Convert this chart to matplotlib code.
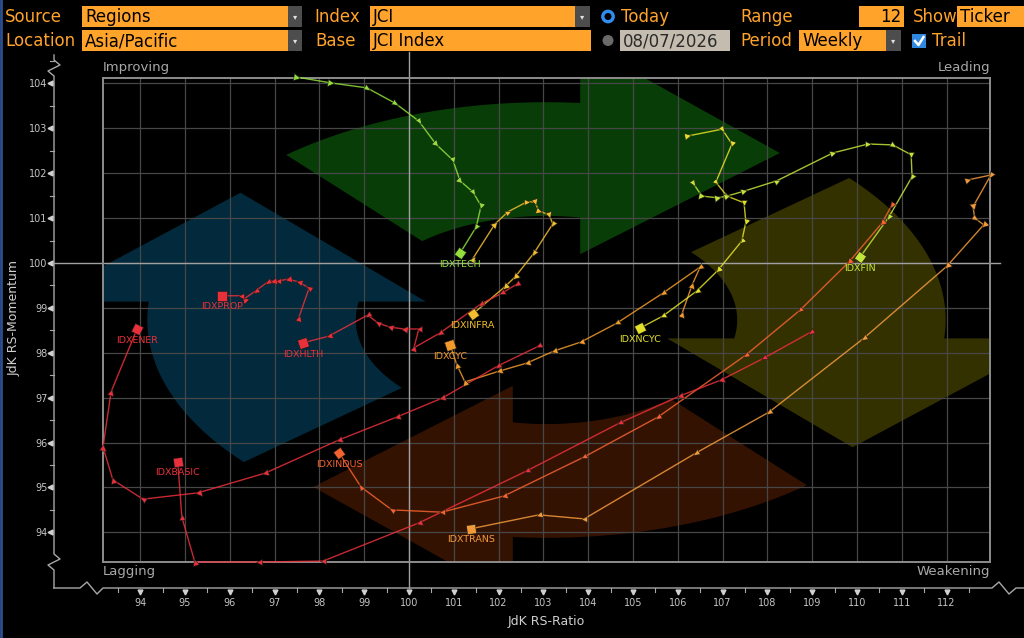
import numpy as np
import matplotlib
matplotlib.use('Agg')
from matplotlib import pyplot as plt
from matplotlib.markers import MarkerStyle
from matplotlib.patches import Polygon, Rectangle, Circle
from matplotlib.transforms import Affine2D, blended_transform_factory

plt.rcParams['font.family'] = ['DejaVu Sans']

# JdK RS-Ratio (x) / RS-Momentum (y), weekly, oldest -> latest
tickers = ['IDXTECH', 'IDXINFRA', 'IDXHLTH', 'IDXCYC', 'IDXNCYC', 'IDXFIN',
           'IDXTRANS', 'IDXINDUS', 'IDXBASIC', 'IDXENER', 'IDXPROP']
colors = ['#93de3c', '#f2bd2e', '#e8303a', '#f29a2c', '#e3e02a', '#c3e43a',
          '#f29a3a', '#f4622e', '#e8303a', '#e8303a', '#e8303a']

tech_x = [97.50, 98.26, 99.06, 99.69, 100.22, 100.60, 100.98, 101.14, 101.43, 101.61, 101.50, 101.14]
tech_y = [104.14, 104.01, 103.90, 103.56, 103.16, 102.65, 102.29, 101.83, 101.58, 101.27, 100.80, 100.22]

infra_x = [101.42, 101.92, 102.21, 102.63, 102.81, 102.90, 103.13, 103.21, 102.79, 102.37, 102.14, 101.42]
infra_y = [100.09, 100.87, 101.14, 101.36, 101.36, 101.16, 101.07, 100.87, 100.22, 99.69, 99.47, 98.86]

hlth_x = [102.41, 102.08, 101.61, 100.69, 100.11, 100.22, 99.89, 99.58, 99.31, 99.08, 98.21, 97.63]
hlth_y = [99.53, 99.33, 99.09, 98.44, 98.11, 98.53, 98.53, 98.57, 98.66, 98.84, 98.37, 98.22]

cyc_x = [106.09, 106.32, 106.50, 105.67, 104.64, 103.84, 103.24, 102.63, 102.01, 101.25, 101.07, 100.92]
cyc_y = [98.86, 99.51, 99.91, 99.33, 98.66, 98.24, 98.04, 97.77, 97.59, 97.35, 97.73, 98.17]

ncyc_x = [106.23, 106.99, 107.21, 106.85, 107.10, 107.48, 107.52, 107.43, 106.90, 106.43, 105.67, 105.16]
ncyc_y = [102.83, 102.98, 102.65, 101.80, 101.49, 101.34, 100.91, 100.49, 99.84, 99.38, 98.82, 98.55]

fin_x = [106.34, 106.54, 106.90, 107.10, 107.48, 108.21, 109.46, 110.25, 110.80, 111.21, 111.23, 110.71, 110.07]
fin_y = [101.78, 101.49, 101.45, 101.49, 101.60, 101.83, 102.45, 102.65, 102.63, 102.41, 101.92, 101.02, 100.13]

trans_x = [112.48, 112.99, 112.59, 112.63, 112.83, 112.01, 110.16, 108.04, 106.41, 103.91, 102.90, 101.38]
trans_y = [101.85, 101.96, 101.25, 101.00, 100.85, 99.93, 98.33, 96.68, 95.77, 94.30, 94.39, 94.08]

indus_x = [110.78, 110.56, 109.82, 108.73, 107.52, 105.56, 103.91, 102.12, 100.74, 99.62, 98.93, 98.44]
indus_y = [101.29, 100.89, 100.02, 98.95, 97.95, 96.57, 95.68, 94.81, 94.45, 94.50, 95.01, 95.77]

basic_x = [108.97, 107.92, 106.96, 106.05, 104.71, 102.63, 100.22, 98.08, 96.65, 95.22, 94.93, 94.84]
basic_y = [98.46, 97.88, 97.39, 97.04, 96.44, 95.37, 94.21, 93.36, 93.34, 93.34, 94.34, 95.57]

ener_x = [102.90, 101.99, 100.74, 99.73, 98.44, 96.79, 95.29, 94.06, 93.39, 93.17, 93.35, 93.93]
ener_y = [98.15, 97.71, 96.99, 96.57, 96.06, 95.32, 94.88, 94.74, 95.17, 95.90, 97.13, 98.53]

prop_x = [97.54, 97.77, 97.54, 97.30, 97.08, 96.96, 96.85, 96.58, 96.32, 96.25, 95.83]
prop_y = [98.78, 99.44, 99.58, 99.64, 99.60, 99.60, 99.58, 99.38, 99.20, 99.27, 99.27]

xs_all = [tech_x, infra_x, hlth_x, cyc_x, ncyc_x, fin_x, trans_x, indus_x, basic_x, ener_x, prop_x]
ys_all = [tech_y, infra_y, hlth_y, cyc_y, ncyc_y, fin_y, trans_y, indus_y, basic_y, ener_y, prop_y]

x_ticks = list(range(94, 113))
y_ticks = list(range(94, 105))
quadrants = ['Improving', 'Leading', 'Lagging', 'Weakening']

W, H = 1024, 638
ORANGE = '#ffa32b'
GREY = '#a8a8a8'

fig = plt.figure(figsize=(W / 100, H / 100), dpi=100, facecolor='black')

# overlay in pixel coordinates for the terminal chrome
deco = fig.add_axes([0, 0, 1, 1])
deco.set_xlim(0, W)
deco.set_ylim(H, 0)
deco.axis('off')
deco.patch.set_visible(False)

ax = fig.add_axes([103 / W, 1 - 562 / H, 887 / W, 484 / H])
ax.set_facecolor('black')
ax.set_xlim(93.17, 112.97)
ax.set_ylim(93.34, 104.12)

# ---- header fields
ROWS = [(6, 27), (30, 51)]


def field(x0, x1, row, text, fc=ORANGE, tc='black', ha='left'):
    y0, y1 = ROWS[row]
    deco.add_patch(Rectangle((x0, y0), x1 - x0, y1 - y0, fc=fc, ec='none'))
    tx = x0 + 3 if ha == 'left' else x1 - 3
    deco.text(tx, (y0 + y1) / 2 + 0.5, text, color=tc, fontsize=12, ha=ha, va='center')


def drop(x0, x1, row):
    y0, y1 = ROWS[row]
    deco.add_patch(Rectangle((x0, y0), x1 - x0, y1 - y0, fc='#4d4d4d', ec='none'))
    deco.text((x0 + x1) / 2, (y0 + y1) / 2, '\u25be', color='#e0e0e0',
              fontsize=6, ha='center', va='center')


def label(x, row, text):
    y0, y1 = ROWS[row]
    deco.text(x, (y0 + y1) / 2 + 0.5, text, color=ORANGE, fontsize=12, ha='left', va='center')


label(5, 0, 'Source')
field(82, 288, 0, 'Regions')
drop(288, 302, 0)
label(314, 0, 'Index')
field(370, 575, 0, 'JCI')
drop(575, 590, 0)
deco.add_patch(Circle((608, 16.5), 5.2, fc='black', ec='#2f8ff0', lw=2.4))
deco.text(621, 17, 'Today', color=ORANGE, fontsize=12, va='center')
label(740, 0, 'Range')
field(859, 904, 0, '12', ha='right')
label(913, 0, 'Show')
field(957, 1024, 0, 'Ticker')

label(5, 1, 'Location')
field(82, 288, 1, 'Asia/Pacific')
drop(288, 302, 1)
label(315, 1, 'Base')
field(370, 591, 1, 'JCI Index')
deco.add_patch(Circle((608, 40.5), 5.5, fc='#6a6a6a', ec='none'))
field(620, 730, 1, '08/07/2026', fc='#c4bcae', tc='#2a2a2a')
label(740, 1, 'Period')
field(799, 886, 1, 'Weekly')
drop(886, 901, 1)
deco.add_patch(Rectangle((912, 33.5), 14, 14, fc='#3088e0', ec='none'))
deco.plot([915, 918.5, 923.5], [41, 45, 37], color='white', lw=1.8)
deco.text(932, 41, 'Trail', color=ORANGE, fontsize=12, va='center')
deco.plot([1, 1], [0, H], color='#2b4f8f', lw=2)

# ---- background rotation arrows (axes fraction, rotated about the centre)
r_out, r_in, u_cut = 0.45, 0.215, 0.538
a0 = np.deg2rad(130.7)
t_out = np.linspace(a0, np.arccos((u_cut - 0.5) / r_out), 80)
t_in = np.linspace(np.arccos((u_cut - 0.5) / r_in), a0, 80)
shape = np.vstack([
    np.column_stack([0.5 + r_out * np.cos(t_out), 0.5 + r_out * np.sin(t_out)]),
    [[u_cut, 1.074], [0.763, 0.845], [u_cut, 0.636]],
    np.column_stack([0.5 + r_in * np.cos(t_in), 0.5 + r_in * np.sin(t_in)]),
])
arrow_fill = ['#083d08', '#343100', '#341202', '#022a3c']
for k, fc in enumerate(arrow_fill):
    rot = Affine2D().rotate_deg_around(0.5, 0.5, -90 * k)
    ax.add_patch(Polygon(rot.transform(shape), closed=True, fc=fc, ec='none',
                         transform=ax.transAxes, zorder=0.8))

# ---- grid, frame, centre lines
ax.set_xticks(x_ticks)
ax.set_yticks(y_ticks)
ax.set_axisbelow('line')
ax.grid(True, color='#474747', lw=0.9)
for sp in ax.spines.values():
    sp.set_color('#8c8c8c')
    sp.set_linewidth(1.4)
ax.tick_params(axis='x', length=0, pad=26, labelsize=7, labelcolor='#c4c4c4')
ax.tick_params(axis='y', length=0, pad=40, labelsize=7, labelcolor='#c4c4c4')

vtr = blended_transform_factory(ax.transData, ax.transAxes)
htr = blended_transform_factory(ax.transAxes, ax.transData)
ax.plot([100, 100], [-0.054, 1.054], transform=vtr, color='#a0a0a0', lw=1, clip_on=False, zorder=1.7)
ax.plot([-0.056, 1.011], [100, 100], transform=htr, color='#a0a0a0', lw=1, clip_on=False, zorder=1.7)

# ---- outer broken axes with tick marks
deco.plot([54, 54, 60, 48, 54, 54, 60, 48, 54, 54],
          [55, 60, 65, 71, 76, 554, 559, 565, 570, 588], color=GREY, lw=1)
deco.plot([54, 80, 87, 97, 103, 992, 999, 1009, 1016, 1024],
          [588, 588, 582, 594, 588, 588, 582, 594, 588, 588], color=GREY, lw=1)
ytr = blended_transform_factory(deco.transData, ax.transData)
xtr = blended_transform_factory(ax.transData, deco.transData)
for v in y_ticks:
    deco.plot([50], [v], marker='<', ms=3.5, color='#d0d0d0', transform=ytr, clip_on=False)
    deco.plot([50, 54], [v + 0.5, v + 0.5], color=GREY, lw=0.8, transform=ytr, clip_on=False)
for v in x_ticks:
    deco.plot([v], [592], marker='v', ms=3.5, color='#d0d0d0', transform=xtr, clip_on=False)
    deco.plot([v + 0.5, v + 0.5], [588, 592], color=GREY, lw=0.8, transform=xtr, clip_on=False)
deco.plot([93.5, 93.5], [588, 592], color=GREY, lw=0.8, transform=xtr, clip_on=False)

# ---- labels
deco.text(103, 67, quadrants[0], color=GREY, fontsize=9.5, ha='left', va='center')
deco.text(990, 67, quadrants[1], color=GREY, fontsize=9.5, ha='right', va='center')
deco.text(103, 572, quadrants[2], color=GREY, fontsize=9.5, ha='left', va='center')
deco.text(990, 572, quadrants[3], color=GREY, fontsize=9.5, ha='right', va='center')
deco.text(546, 621, 'JdK RS-Ratio', color='#d0d0d0', fontsize=9, ha='center', va='center')
deco.text(14, 318, 'JdK RS-Momentum', color='#d0d0d0', fontsize=9, ha='center', va='center',
          rotation=90)


# ---- trails
def heading(x0, y0, x1, y1):
    p0 = ax.transData.transform((x0, y0))
    p1 = ax.transData.transform((x1, y1))
    return np.degrees(np.arctan2(p1[1] - p0[1], p1[0] - p0[0]))


for name, xs, ys, col in zip(tickers, xs_all, ys_all, colors):
    ax.plot(xs, ys, color=col, lw=1, alpha=0.85, zorder=3, clip_on=False)
    for i in range(len(xs) - 1):
        ang = heading(xs[i], ys[i], xs[i + 1], ys[i + 1])
        m = MarkerStyle('^', transform=Affine2D().rotate_deg(ang - 90))
        ax.plot([xs[i]], [ys[i]], marker=m, ms=4.6, color=col, mec='#1a1a1a',
                mew=0.4, zorder=4, clip_on=False)
    ang = heading(xs[-2], ys[-2], xs[-1], ys[-1])
    sq = MarkerStyle('s', transform=Affine2D().rotate_deg(ang))
    ax.plot([xs[-1]], [ys[-1]], marker=sq, ms=6.5, color=col, mec='#1a1a1a',
            mew=0.4, zorder=5, clip_on=False)
    ax.annotate(name, (xs[-1], ys[-1]), xytext=(0, -8), textcoords='offset points',
                ha='center', va='center', color=col, fontsize=6.8, zorder=6)

fig.savefig('out.png', dpi=100, facecolor='black')
